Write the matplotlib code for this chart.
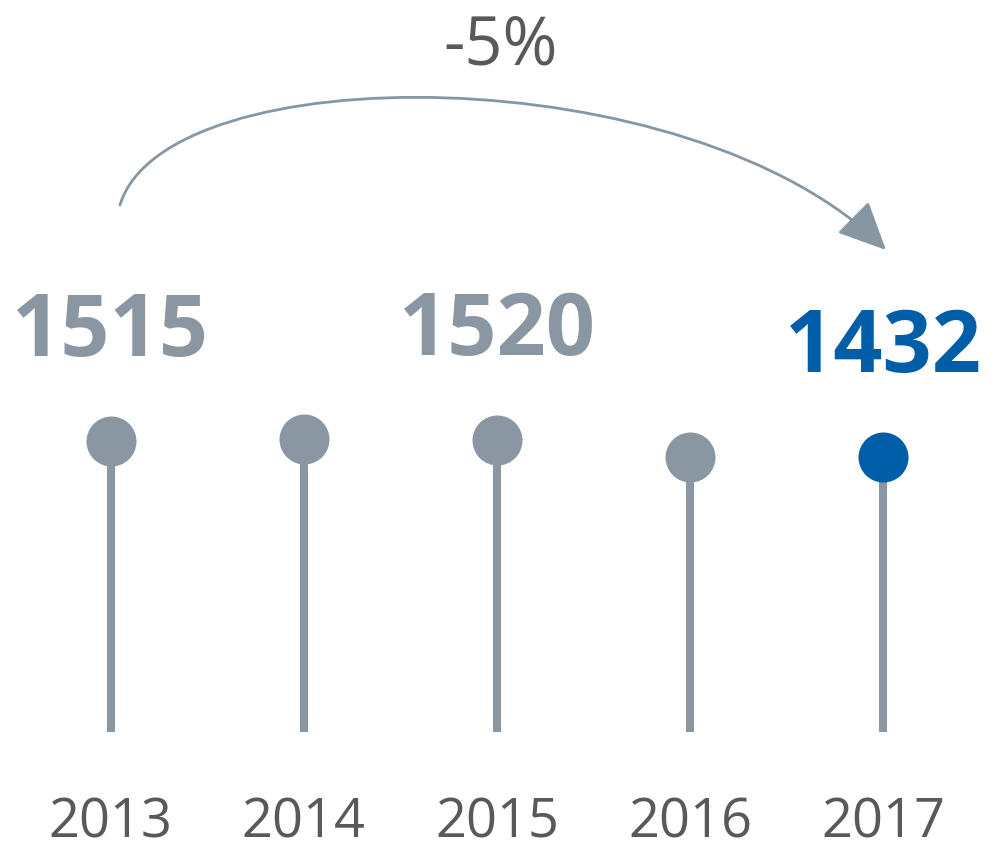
import matplotlib
matplotlib.use("Agg")
import matplotlib.pyplot as plt
from matplotlib.patches import FancyArrowPatch
from matplotlib.path import Path

years = ["2013", "2014", "2015", "2016", "2017"]
values = [1515, 1524, 1520, 1434, 1432]
labeled = ["1515", "", "1520", "", "1432"]
colors = ["#8A97A3", "#8A97A3", "#8A97A3", "#8A97A3", "#005EA8"]

plt.rcParams['font.family'] = ['Open Sans', 'DejaVu Sans']

fig = plt.figure(figsize=(10, 8.5), dpi=100)
ax = fig.add_axes([0, 0, 1, 1])
ax.set_xlim(-0.573, 4.605)
ax.set_ylim(-614, 3810)
ax.axis('off')

xs = list(range(len(years)))
for x, v, c, lab, yr in zip(xs, values, colors, labeled, years):
    ax.plot([x, x], [0, v], color="#8A97A3", lw=5.8, solid_capstyle='butt', zorder=1)
    ax.plot([x], [v], 'o', color=c, markersize=36, markeredgewidth=0, zorder=2)
    if lab:
        ax.annotate(lab, (x, v), xytext=(0, 61), textcoords='offset points',
                    ha='center', va='baseline', fontsize=62, fontweight='bold', color=c)
    ax.annotate(yr, (x, 0), xytext=(0, -76), textcoords='offset points',
                ha='center', va='baseline', fontsize=39, color="#595959")

# overlay in pixel coordinates for the decorative arrow
ov = fig.add_axes([0, 0, 1, 1], facecolor='none')
ov.set_xlim(0, 1000)
ov.set_ylim(850, 0)
ov.axis('off')
verts = [(120, 205), (165, 55), (690, 55), (886, 250)]
codes = [Path.MOVETO, Path.CURVE4, Path.CURVE4, Path.CURVE4]
arrow = FancyArrowPatch(path=Path(verts, codes),
                        arrowstyle='-|>,head_length=30,head_width=14',
                        color="#8796A3", lw=2.0, mutation_scale=1)
ov.add_patch(arrow)

change = round((values[-1] - values[0]) / values[0] * 100)
ov.text(501, 64, f"{change}%", ha='center', va='baseline', fontsize=48, color="#595959")

fig.savefig("out.png", dpi=100)
